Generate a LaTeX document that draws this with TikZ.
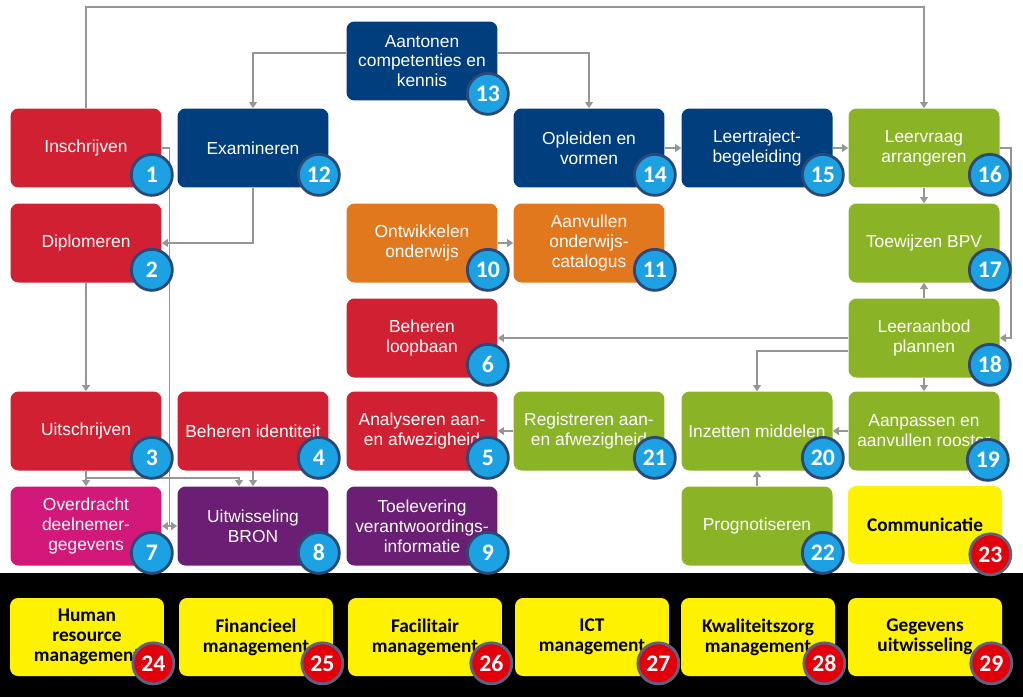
\documentclass[tikz,border=0pt]{standalone}
\usepackage{fontspec}
\setmainfont{Liberation Sans}
\newfontfamily\calfont{Carlito}
\usetikzlibrary{arrows.meta,calc}
\definecolor{procred}{RGB}{208,32,50}
\definecolor{procblue}{RGB}{0,62,126}
\definecolor{procorange}{RGB}{226,120,30}
\definecolor{procgreen}{RGB}{138,180,38}
\definecolor{procpink}{RGB}{210,24,120}
\definecolor{procpurple}{RGB}{106,30,116}
\definecolor{badgeblue}{RGB}{28,162,226}
\definecolor{badgeedge}{RGB}{44,72,120}
\definecolor{badgered}{RGB}{226,0,10}
\definecolor{badgeredge}{RGB}{90,100,130}
\definecolor{linkgray}{RGB}{150,150,150}
\begin{document}
\begin{tikzpicture}[x=0.02cm,y=-0.02cm,
	proc/.style={rounded corners=0.16cm,minimum width=3.02cm,minimum height=1.58cm,inner sep=2pt,
		align=center,text=white,font=\fontsize{9.9}{11.3}\selectfont},
	support/.style={proc,fill=yellow,text=black,minimum width=3.08cm,minimum height=1.56cm,
		font=\calfont\bfseries\fontsize{11}{11.4}\selectfont},
	badge/.style={circle,draw=badgeedge,fill=badgeblue,line width=1.6pt,minimum size=0.82cm,inner sep=0pt,
		text=white,font=\calfont\bfseries\fontsize{13.5}{13.5}\selectfont},
	redbadge/.style={badge,draw=badgeredge,fill=badgered},
	link/.style={draw=linkgray,line width=0.9pt},
	arr/.style={link,-{Triangle[length=3.5pt,width=4.5pt]}}]
	\useasboundingbox (0,0) rectangle (1023,697);
	\fill[black] (0,573) rectangle (1023,697);
	\node[proc,fill=procblue](n13) at (422,61) {Aantonen\\competenties en\\kennis};
	\node[proc,fill=procred](n1) at (86,148) {Inschrijven};
	\node[proc,fill=procblue](n12) at (253,148) {Examineren};
	\node[proc,fill=procblue](n14) at (589,148) {Opleiden en\\vormen};
	\node[proc,fill=procblue](n15) at (757,148) {Leertraject-\\begeleiding};
	\node[proc,fill=procgreen](n16) at (924,148) {Leervraag\\arrangeren};
	\node[proc,fill=procred](n2) at (86,243) {Diplomeren};
	\node[proc,fill=procorange](n10) at (422,243) {Ontwikkelen\\onderwijs};
	\node[proc,fill=procorange](n11) at (589,243) {Aanvullen\\onderwijs-\\catalogus};
	\node[proc,fill=procgreen](n17) at (924,243) {Toewijzen BPV};
	\node[proc,fill=procred](n6) at (422,338) {Beheren\\loopbaan};
	\node[proc,fill=procgreen](n18) at (924,338) {Leeraanbod\\plannen};
	\node[proc,fill=procred](n3) at (86,431) {Uitschrijven};
	\node[proc,fill=procred](n4) at (253,431) {Beheren identiteit};
	\node[proc,fill=procred](n5) at (422,431) {Analyseren aan-\\en afwezigheid};
	\node[proc,fill=procgreen](n21) at (589,431) {Registreren aan-\\en afwezigheid};
	\node[proc,fill=procgreen](n20) at (757,431) {Inzetten middelen};
	\node[proc,fill=procgreen](n19) at (924,431) {Aanpassen en\\aanvullen rooster};
	\node[proc,fill=procpink](n7) at (86,526) {Overdracht\\deelnemer-\\gegevens};
	\node[proc,fill=procpurple](n8) at (253,526) {Uitwisseling\\BRON};
	\node[proc,fill=procpurple](n9) at (422,526) {Toelevering\\verantwoordings-\\informatie};
	\node[proc,fill=procgreen](n22) at (757,526) {Prognotiseren};
	\node[support](n23) at (925,525) {Communicatie};
	\node[support](n24) at (87,637) {Human\\resource\\management};
	\node[support](n25) at (256,637) {Financieel\\management};
	\node[support](n26) at (425,637) {Facilitair\\management};
	\node[support](n27) at (592,637) {ICT\\management};
	\node[support](n28) at (758,637) {Kwaliteitszorg\\management};
	\node[support](n29) at (925,637) {Gegevens\\uitwisseling};
	\coordinate(topline) at (0,7);
	\coordinate(mid) at ($(n7.east)!0.5!(n8.west)$);
	\coordinate(bus) at ($(n3.south)!0.45!(n7.north)$);
	\draw[arr] (n1.north) -- (n1.north |- topline) -| (n16.north);
	\draw[arr] ([yshift=0.16cm]n13.west) -| (n12.north);
	\draw[arr] ([yshift=0.16cm]n13.east) -| (n14.north);
	\draw[arr] (n14.east) -- (n15.west);
	\draw[arr] (n15.east) -- (n16.west);
	\draw[arr] (n16.south) -- (n17.north);
	\draw[arr] (n16.east) -- ++(11,0) |- (n18.east);
	\draw[arr] (n18.north) -- (n17.south);
	\draw[arr] (n18.west) -- (n6.east);
	\draw[arr] ([yshift=-0.26cm]n18.west) -| (n20.north);
	\draw[arr] (n18.south) -- (n19.north);
	\draw[arr] (n19.west) -- (n20.east);
	\draw[arr] (n22.north) -- (n20.south);
	\draw[arr] (n21.west) -- (n5.east);
	\draw[arr] (n10.east) -- (n11.west);
	\draw[arr] (n12.south) |- (n2.east);
	\draw[arr] (n2.south) -- (n3.north);
	\draw[arr] (n3.south) -- (n7.north);
	\draw[arr] (bus) -| ([xshift=-0.28cm]n8.north);
	\draw[arr] (n4.south) -- (n8.north);
	\draw[link] (n1.east) -| (mid);
	\draw[arr] (mid) -- (n7.east);
	\draw[arr] (mid) -- (n8.west);
	\node[badge](b1) at ([shift={(-10,-13)}]n1.south east) {1};
	\node[badge](b2) at ([shift={(-10,-13)}]n2.south east) {2};
	\node[badge](b3) at ([shift={(-10,-13)}]n3.south east) {3};
	\node[badge](b4) at ([shift={(-10,-13)}]n4.south east) {4};
	\node[badge](b5) at ([shift={(-10,-13)}]n5.south east) {5};
	\node[badge](b6) at ([shift={(-10,-13)}]n6.south east) {6};
	\node[badge](b7) at ([shift={(-10,-13)}]n7.south east) {7};
	\node[badge](b8) at ([shift={(-10,-13)}]n8.south east) {8};
	\node[badge](b9) at ([shift={(-10,-13)}]n9.south east) {9};
	\node[badge](b10) at ([shift={(-10,-13)}]n10.south east) {10};
	\node[badge](b11) at ([shift={(-10,-13)}]n11.south east) {11};
	\node[badge](b12) at ([shift={(-10,-13)}]n12.south east) {12};
	\node[badge](b13) at ([shift={(-10,-7)}]n13.south east) {13};
	\node[badge](b14) at ([shift={(-10,-13)}]n14.south east) {14};
	\node[badge](b15) at ([shift={(-10,-13)}]n15.south east) {15};
	\node[badge](b16) at ([shift={(-10,-13)}]n16.south east) {16};
	\node[badge](b17) at ([shift={(-10,-13)}]n17.south east) {17};
	\node[badge](b18) at ([shift={(-10,-13)}]n18.south east) {18};
	\node[badge](b19) at ([shift={(-12,-11)}]n19.south east) {19};
	\node[badge](b20) at ([shift={(-10,-13)}]n20.south east) {20};
	\node[badge](b21) at ([shift={(-10,-13)}]n21.south east) {21};
	\node[badge](b22) at ([shift={(-10,-13)}]n22.south east) {22};
	\node[redbadge](b23) at ([shift={(-12,-10)}]n23.south east) {23};
	\node[redbadge](b24) at ([shift={(-11,-13)}]n24.south east) {24};
	\node[redbadge](b25) at ([shift={(-11,-13)}]n25.south east) {25};
	\node[redbadge](b26) at ([shift={(-11,-13)}]n26.south east) {26};
	\node[redbadge](b27) at ([shift={(-11,-13)}]n27.south east) {27};
	\node[redbadge](b28) at ([shift={(-11,-13)}]n28.south east) {28};
	\node[redbadge](b29) at ([shift={(-11,-13)}]n29.south east) {29};
\end{tikzpicture}
\end{document}
